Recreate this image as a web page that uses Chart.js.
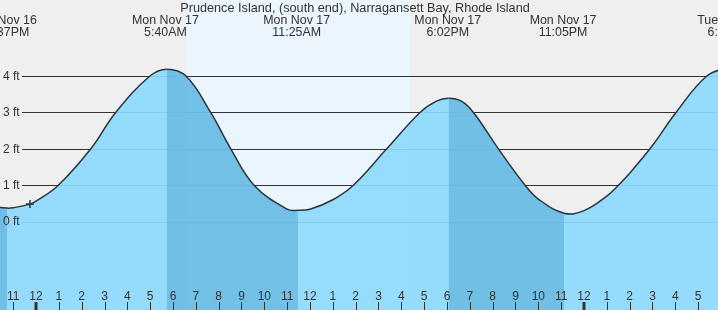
<!DOCTYPE html>
<html><head><meta charset="utf-8">
<script src="https://cdn.jsdelivr.net/npm/chart.js@4/dist/chart.umd.min.js"></script>
<style>html,body{margin:0;padding:0;background:#efefef;overflow:hidden}#wrap{width:718px;height:310px;position:relative}</style>
</head><body><div id="wrap"><canvas id="c"></canvas></div>
<script>
const titleText = "Prudence Island, (south end), Narragansett Bay, Rhode Island";
// hours relative to midnight Mon Nov 17, water level in feet
const tideHours = [-2.0, -1.27, -1, -0.263, 0, 0.98, 2.40, 3.49, 4.99, 5.72, 6.57, 7.65, 8.53, 9.55, 11, 11.47, 12, 13, 13.90, 15.36, 16.82, 17.54, 18.07, 18.63, 19.16, 20.25, 21.42, 22, 23.13, 24, 25, 25.51, 26, 27, 28.03, 29.38, 30.35];
const tideFeet  = [0.41, 0.37, 0.38, 0.48, 0.56, 1.0, 2.0, 3.0, 4.0, 4.19, 4.0, 3.0, 2.0, 1.0, 0.34, 0.31, 0.34, 0.60, 1.0, 2.0, 3.0, 3.31, 3.39, 3.31, 3.0, 2.0, 1.0, 0.62, 0.23, 0.30, 0.70, 1.0, 1.33, 2.09, 3.0, 4.0, 4.25];
const eventHours = [-1.383, 5.667, 11.417, 18.033, 23.083, 30.35];
const eventDays  = ["Sun Nov 16", "Mon Nov 17", "Mon Nov 17", "Mon Nov 17", "Mon Nov 17", "Tue Nov 18"];
const eventTimes = ["10:37PM", "5:40AM", "11:25AM", "6:02PM", "11:05PM", "6:21AM"];
const tickHours  = [-1,0,1,2,3,4,5,6,7,8,9,10,11,12,13,14,15,16,17,18,19,20,21,22,23,24,25,26,27,28,29];
const tickLabels = ["11","12","1","2","3","4","5","6","7","8","9","10","11","12","1","2","3","4","5","6","7","8","9","10","11","12","1","2","3","4","5"];
const yTicks = [0, 1, 2, 3, 4];
const yTickLabels = ["0 ft", "1 ft", "2 ft", "3 ft", "4 ft"];
const daylight = [6.60, 16.37];
const markerHour = [-0.263];
const markerFeet = [0.48];

const LIGHT = 'rgba(141,217,253,0.92)';
const DARK = 'rgba(80,165,205,0.51)';
const NONE = 'rgba(0,0,0,0)';
const FAM = '"Liberation Sans", Arial, sans-serif';

const deco = {
  id: 'deco',
  beforeDraw(chart) {
    const {ctx, chartArea: a, scales: {x}} = chart;
    ctx.save();
    ctx.fillStyle = '#efefef';
    ctx.fillRect(0, 0, chart.width, chart.height);
    const x0 = x.getPixelForValue(daylight[0]), x1 = x.getPixelForValue(daylight[1]);
    ctx.fillStyle = '#ebf5fe';
    ctx.fillRect(x0, a.top, x1 - x0, a.bottom - a.top);
    ctx.restore();
  },
  beforeDatasetsDraw(chart) {
    const {ctx, chartArea: a, scales: {y}} = chart;
    ctx.save();
    ctx.strokeStyle = '#333';
    ctx.lineWidth = 1;
    yTicks.forEach(v => {
      const py = Math.round(y.getPixelForValue(v)) + 0.5;
      ctx.beginPath(); ctx.moveTo(22, py); ctx.lineTo(a.right, py); ctx.stroke();
    });
    ctx.restore();
  },
  afterDatasetsDraw(chart) {
    const {ctx, chartArea: a, scales: {x, y}} = chart;
    ctx.save();
    ctx.fillStyle = '#333';
    ctx.font = '12px ' + FAM;
    ctx.textAlign = 'left'; ctx.textBaseline = 'middle';
    yTicks.forEach((v, i) => ctx.fillText(yTickLabels[i], 3, y.getPixelForValue(v) + 0.5));
    ctx.textAlign = 'center'; ctx.textBaseline = 'alphabetic';
    ctx.strokeStyle = '#333';
    tickHours.forEach((h, i) => {
      const px = x.getPixelForValue(h);
      ctx.fillText(tickLabels[i], px, 300);
      const mid = (h % 24 === 0);
      ctx.lineWidth = mid ? 3 : 1;
      const lx = mid ? Math.round(px) : Math.round(px) + 0.5;
      ctx.beginPath(); ctx.moveTo(lx, 302); ctx.lineTo(lx, a.bottom); ctx.stroke();
    });
    ctx.font = '12.4px ' + FAM;
    eventHours.forEach((h, i) => {
      const px = x.getPixelForValue(h);
      ctx.fillText(eventDays[i], px, 24);
      ctx.fillText(eventTimes[i], px, 36);
    });
    ctx.font = '12.7px ' + FAM;
    ctx.fillText(titleText, 355, 12);
    ctx.restore();
  }
};

const pts = tideHours.map((h, i) => ({x: h, y: tideFeet[i]}));

new Chart(document.getElementById('c'), {
  type: 'line',
  data: {
    datasets: [
      {
        data: markerHour.map((h, i) => ({x: h, y: markerFeet[i]})),
        showLine: false,
        pointStyle: 'cross',
        pointRadius: 4,
        borderColor: '#333',
        borderWidth: 1.5,
        order: 0
      },
      {
        data: pts,
        borderColor: '#333',
        borderWidth: 1.5,
        pointRadius: 0,
        fill: 'start',
        backgroundColor: NONE,
        tension: 0.4,
        segment: {
          backgroundColor: c => (c.p1.parsed.y < c.p0.parsed.y ? DARK : NONE)
        },
        order: 1
      },
      {
        data: pts,
        borderWidth: 0,
        borderColor: NONE,
        pointRadius: 0,
        fill: 'start',
        backgroundColor: LIGHT,
        tension: 0.4,
        order: 2
      }
    ]
  },
  options: {
    responsive: true,
    maintainAspectRatio: false,
    animation: false,
    events: [],
    layout: {padding: 0, autoPadding: false},
    plugins: {legend: {display: false}, tooltip: {enabled: false}, title: {display: false}},
    scales: {
      x: {type: 'linear', min: -1.577, max: 29.87, display: false},
      y: {type: 'linear', min: -2.43, max: 6.09, display: false}
    }
  },
  plugins: [deco]
});
</script>
</body></html>
